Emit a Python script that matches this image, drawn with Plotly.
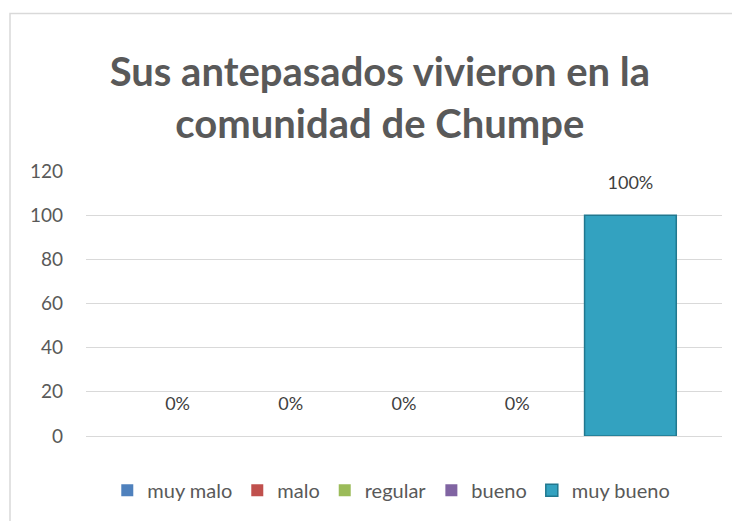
import plotly.graph_objects as go

categorias = ['muy malo', 'malo', 'regular', 'bueno', 'muy bueno']
valores = [0, 0, 0, 0, 100]
etiquetas = ['0%', '0%', '0%', '0%', '100%']
colores = ['#4F81BD', '#C0504D', '#9BBB59', '#8064A2', '#33A2C0']
bordes = ['#2c5d8f', '#8c2f2c', '#6f8a38', '#5a4478', '#21788f']
y_ticks = [0, 20, 40, 60, 80, 100, 120]

FONT = 'Lato'
GRIS = '#595959'

fig = go.Figure()
for nombre, v, t, c, b in zip(categorias, valores, etiquetas, colores, bordes):
    fig.add_trace(go.Bar(x=[''], y=[v], name=nombre,
                         text=[t + '<br><span style="font-size:2px"> </span>'],
                         textposition='outside',
                         marker=dict(color=c, line=dict(color=b, width=1.5 if v else 0)),
                         textfont=dict(family=FONT, size=18, color='#404040'),
                         cliponaxis=False))

fig.update_layout(
    width=732, height=513,
    margin=dict(l=78, r=18, t=163, b=84),
    paper_bgcolor='white', plot_bgcolor='white',
    barmode='group', bargap=0.11, bargroupgap=0.19,
    title=dict(text='<b>Sus antepasados vivieron en la<br>comunidad de Chumpe</b>',
               x=0.508, xref='container', xanchor='center',
               y=0.848, yref='container', yanchor='top',
               font=dict(family=FONT, size=40, color=GRIS)),
    showlegend=True,
    legend=dict(orientation='h', x=0.48, xanchor='center', y=-0.2, yanchor='middle',
                font=dict(family=FONT, size=20, color=GRIS), traceorder='normal'),
    font=dict(family=FONT, color=GRIS),
)
fig.update_xaxes(showticklabels=False, showgrid=False, zeroline=False, showline=False)
fig.update_yaxes(range=[0, 120], tickvals=y_ticks, showgrid=True, gridcolor='#d9d9d9', gridwidth=1,
                 zeroline=True, zerolinecolor='#d9d9d9', zerolinewidth=1, showline=False,
                 tickfont=dict(family=FONT, size=19, color=GRIS), ticklabelstandoff=22)

# chart frame
fig.add_shape(type='rect', xref='paper', yref='paper', x0=-0.1195, x1=1.04, y0=-0.35, y1=1.594,
              line=dict(color='#d9d9d9', width=1.5), fillcolor='rgba(0,0,0,0)', layer='below')

fig.write_html('out.html')
